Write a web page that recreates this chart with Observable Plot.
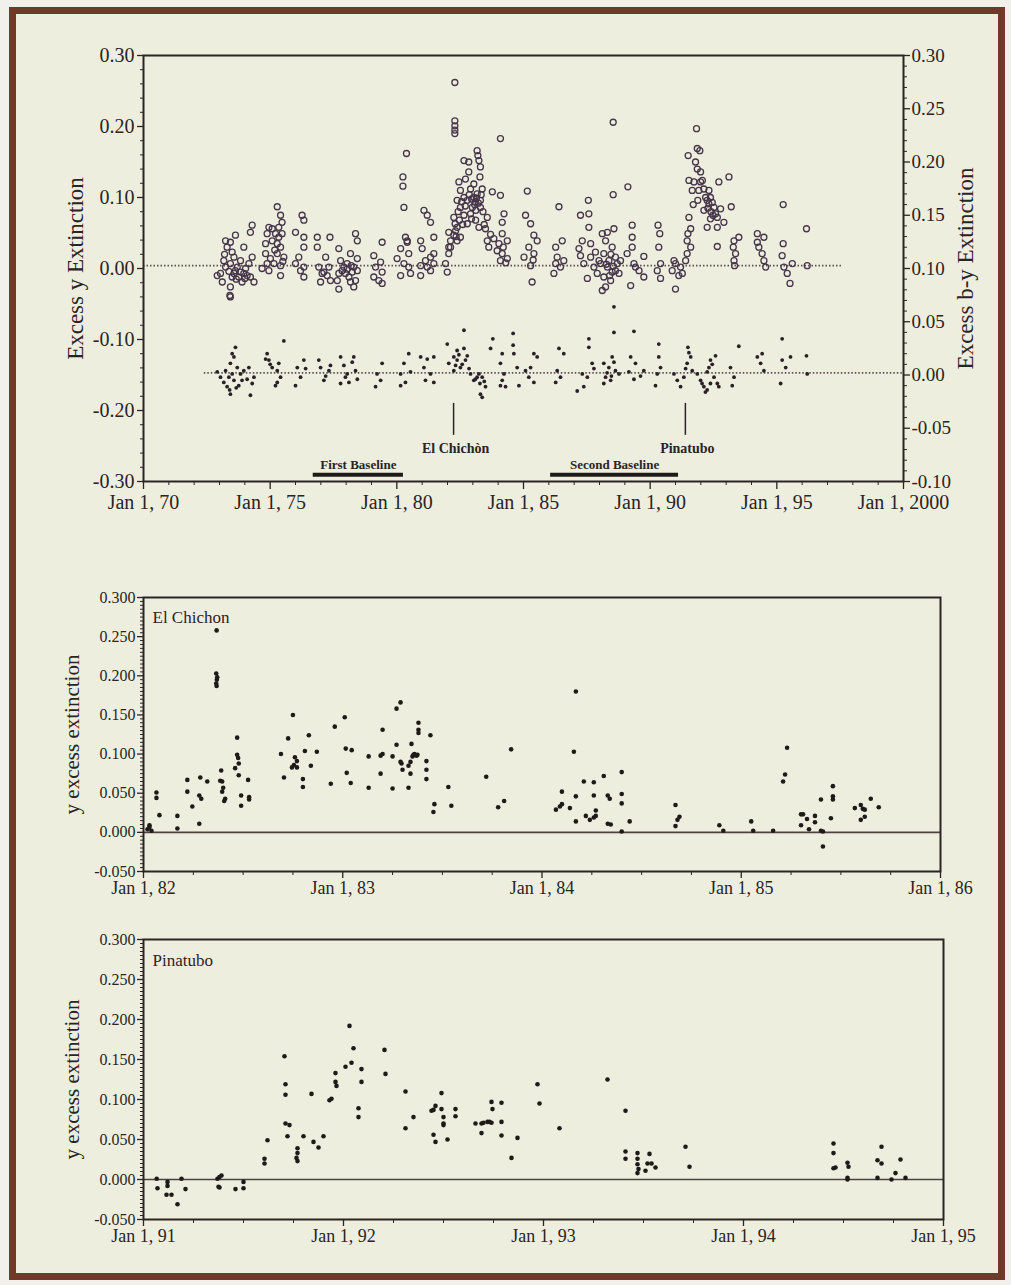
<!DOCTYPE html>
<html>
<head>
<meta charset="utf-8">
<script src="https://cdn.jsdelivr.net/npm/d3@7"></script>
<script src="https://cdn.jsdelivr.net/npm/@observablehq/plot@0.6"></script>
<style>
html,body{margin:0;padding:0;background:#f1f0ea;}
body{position:relative;width:1011px;height:1285px;overflow:hidden;font-family:"Liberation Serif",serif;}
#page{position:absolute;left:9px;top:7px;width:982px;height:1259px;border:7px solid #6e3a2a;background:#eeeedf;}
.panel{position:absolute;left:0;}
</style>
</head>
<body>
<div id="page"></div>
<div id="topPanel" class="panel" style="top:20px"></div>
<div id="midPanel" class="panel" style="top:570px"></div>
<div id="botPanel" class="panel" style="top:915px"></div>
<script>
// ---------- DATA ----------
// Top panel: excess y extinction (open circles, left axis), [decimal year, value]
const excessY = [
[1973.24,0.039],[1973.43,0.037],[1973.63,0.047],[1973.30,0.030],[1973.50,0.023],[1973.17,0.011],[1973.43,0.007],[1973.70,0.002],
[1973.83,-0.005],[1973.96,-0.007],[1974.09,-0.010],[1974.22,-0.012],[1974.36,-0.019],[1973.04,-0.007],[1972.91,-0.010],[1973.11,-0.019],
[1973.43,-0.026],[1973.43,-0.040],[1973.41,-0.038],[1973.57,-0.007],[1974.29,0.061],[1974.22,0.051],[1973.96,0.030],[1974.29,0.016],
[1974.16,0.007],[1973.76,-0.012],[1973.89,-0.019],[1973.63,-0.003],[1974.03,0.000],[1973.24,0.002],[1973.57,0.016],[1973.83,0.011],
[1973.50,-0.012],[1973.37,-0.004],[1973.66,-0.015],[1974.00,-0.014],[1973.20,0.020],
[1975.28,0.087],[1975.41,0.075],[1975.47,0.065],[1975.34,0.058],[1974.95,0.058],[1974.88,0.049],[1975.08,0.039],[1975.28,0.035],
[1974.82,0.021],[1975.01,0.014],[1974.88,0.007],[1975.28,0.021],[1975.41,0.004],[1975.41,-0.010],[1974.68,0.000],[1975.47,0.049],
[1975.21,0.049],[1974.82,0.035],[1975.15,0.007],[1974.95,-0.003],[1975.54,0.016],[1975.08,0.056],[1975.41,0.030],
[1975.34,0.044],[1975.18,0.026],[1975.50,0.010],
[1976.26,0.075],[1976.33,0.068],[1976.00,0.051],[1976.33,0.044],[1976.33,0.030],[1976.13,0.016],[1976.00,0.007],[1976.33,0.002],
[1976.33,-0.012],[1976.20,-0.003],
[1976.86,0.044],[1976.86,0.030],[1977.36,0.044],[1977.19,0.016],[1976.92,0.002],[1977.12,-0.005],[1976.99,-0.019],[1977.32,0.002],
[1977.25,-0.010],[1977.05,-0.007],[1977.38,-0.017],
[1978.37,0.049],[1978.44,0.039],[1977.71,0.028],[1978.17,0.021],[1977.78,0.011],[1978.04,0.007],[1977.91,0.002],[1978.30,0.002],
[1978.44,-0.003],[1977.71,-0.007],[1978.11,-0.012],[1977.71,-0.029],[1978.37,-0.017],[1978.30,-0.026],[1977.84,-0.003],[1978.24,-0.005],
[1977.97,-0.007],[1978.17,-0.019],[1978.44,0.014],[1977.65,-0.017],[1978.04,-0.001],[1978.20,0.004],
[1979.42,0.037],[1979.09,0.018],[1979.36,0.009],[1979.16,0.002],[1979.42,-0.005],[1979.09,-0.012],[1979.42,-0.021],[1979.29,-0.017],
[1980.38,0.162],[1980.24,0.129],[1980.24,0.116],[1980.28,0.086],[1980.41,0.039],[1980.15,0.028],[1980.47,0.021],[1980.28,0.007],
[1980.47,0.002],[1980.54,-0.007],[1980.15,-0.010],[1980.01,0.014],[1980.34,0.044],[1980.41,0.037],
[1981.07,0.082],[1981.20,0.075],[1981.33,0.065],[1981.46,0.044],[1980.94,0.039],[1981.00,0.028],[1981.33,0.016],[1981.46,0.007],
[1980.94,0.004],[1981.20,0.002],[1980.94,-0.010],[1981.46,0.021],[1981.13,0.011],[1981.33,-0.003],
[1982.12,0.039],[1982.05,0.021],[1981.92,0.007],[1981.99,-0.005],[1982.05,0.030],
[1982.29,0.262],[1982.29,0.208],[1982.29,0.201],[1982.29,0.195],[1982.29,0.190],[1982.65,0.152],[1982.84,0.150],[1982.45,0.122],
[1982.71,0.126],[1983.17,0.166],[1983.20,0.159],[1983.30,0.143],[1983.28,0.129],[1983.04,0.119],[1982.91,0.112],[1982.65,0.100],
[1982.38,0.096],[1983.17,0.105],[1983.30,0.096],[1982.51,0.086],[1982.98,0.086],[1983.30,0.086],[1982.25,0.072],[1982.65,0.075],
[1983.57,0.072],[1982.38,0.058],[1982.25,0.047],[1982.51,0.044],[1983.24,0.058],[1983.50,0.056],[1982.12,0.030],[1982.38,0.039],
[1982.05,0.051],[1982.78,0.096],[1983.04,0.100],[1982.91,0.077],[1983.11,0.068],[1982.78,0.063],[1982.32,0.053],[1983.37,0.112],
[1983.24,0.152],[1982.84,0.136],[1982.51,0.110],
[1982.42,0.080],[1982.47,0.068],[1982.56,0.094],[1982.60,0.062],[1982.70,0.088],[1982.86,0.104],[1982.95,0.098],[1983.07,0.090],
[1983.10,0.094],[1983.14,0.099],[1983.22,0.092],[1983.33,0.104],[1983.40,0.080],[1983.45,0.062],[1982.34,0.045],[1982.30,0.063],
[1982.95,0.070],[1983.12,0.082],
[1984.09,0.183],[1983.77,0.108],[1984.09,0.103],[1984.23,0.077],[1984.16,0.065],[1984.16,0.049],[1984.03,0.035],[1984.36,0.039],
[1984.16,0.021],[1984.36,0.014],[1984.09,0.011],[1983.57,0.039],[1983.83,0.042],[1983.63,0.030],[1983.96,0.025],
[1983.70,0.048],[1984.20,0.030],[1984.30,0.008],
[1985.15,0.109],[1985.08,0.075],[1985.28,0.063],[1985.41,0.047],[1985.21,0.030],[1985.02,0.016],[1985.41,0.021],[1985.28,0.004],
[1985.34,-0.019],[1985.54,0.039],[1985.38,0.012],
[1986.40,0.087],[1986.53,0.039],[1986.27,0.030],[1986.33,0.016],[1986.27,0.007],[1986.59,0.011],[1986.20,-0.007],[1986.46,0.002],
[1987.56,0.096],[1987.25,0.075],[1987.58,0.077],[1987.58,0.058],[1987.32,0.039],[1987.65,0.035],[1987.25,0.018],[1987.65,0.016],
[1987.38,0.007],[1987.78,0.002],[1987.91,-0.007],[1987.52,-0.014],[1987.19,0.028],[1987.84,0.023],[1987.98,0.011],
[1988.54,0.206],[1988.54,0.104],[1989.12,0.115],[1988.11,0.049],[1988.31,0.051],[1988.57,0.056],[1988.24,0.039],[1988.50,0.030],
[1988.17,0.021],[1988.63,0.016],[1988.04,0.007],[1988.31,0.002],[1988.63,-0.003],[1988.77,-0.007],[1988.17,-0.012],[1988.44,-0.017],
[1988.24,-0.026],[1988.11,-0.031],[1988.37,0.011],[1988.70,0.007],[1988.50,-0.005],[1988.83,0.011],
[1988.40,-0.010],[1988.27,0.006],[1988.55,0.003],[1988.45,0.020],
[1989.29,0.061],[1989.29,0.044],[1989.29,0.030],[1989.09,0.021],[1989.36,0.007],[1989.23,-0.024],[1989.75,0.017],[1989.56,-0.003],
[1989.75,-0.012],[1989.42,0.002],
[1990.31,0.061],[1990.38,0.049],[1990.34,0.030],[1990.41,0.007],[1990.28,-0.003],[1990.41,-0.014],
[1991.00,0.007],[1990.87,-0.003],[1991.20,0.002],[1991.00,-0.029],[1991.13,-0.010],[1990.94,0.011],[1991.27,-0.007],
[1991.50,0.159],[1991.83,0.197],[1991.86,0.169],[1991.96,0.166],[1991.79,0.150],[1991.86,0.140],[1991.99,0.136],[1991.53,0.124],
[1991.73,0.122],[1991.99,0.122],[1991.66,0.110],[1992.12,0.112],[1992.32,0.110],[1991.88,0.096],[1992.25,0.096],[1992.38,0.100],
[1992.52,0.086],[1992.58,0.077],[1992.38,0.070],[1992.65,0.072],[1992.25,0.058],[1992.65,0.058],[1991.53,0.072],[1991.60,0.056],
[1991.46,0.039],[1991.60,0.030],[1991.46,0.021],[1992.71,0.122],[1993.11,0.129],[1993.20,0.087],[1992.91,0.065],[1992.65,0.031],
[1992.19,0.100],[1992.32,0.091],[1992.45,0.093],[1992.12,0.082],[1992.06,0.124],[1992.78,0.084],[1991.40,0.011],[1991.49,0.049],
[1992.40,0.080],[1992.48,0.075],[1992.28,0.085],[1991.92,0.110],[1991.70,0.090],
[1993.31,0.039],[1993.28,0.030],[1993.37,0.021],[1993.31,0.011],[1993.50,0.044],[1993.33,0.004],
[1994.23,0.049],[1994.49,0.044],[1994.29,0.030],[1994.42,0.021],[1994.49,0.011],[1994.56,0.002],[1994.23,0.037],
[1995.25,0.090],[1995.25,0.035],[1995.21,0.018],[1995.28,0.002],[1995.41,-0.007],[1995.52,-0.021],[1995.61,0.007],
[1996.17,0.056],[1996.20,0.004]
];

// Top panel: excess b-y extinction (filled dots, right axis), [decimal year, value]
const excessBY = [
[1973.63,0.026],[1973.50,0.020],[1973.43,0.011],[1973.70,0.007],[1973.24,0.004],[1973.83,0.001],[1973.37,-0.002],[1973.57,-0.005],
[1974.09,-0.004],[1974.29,-0.008],[1973.30,-0.011],[1973.43,-0.018],[1974.22,-0.019],[1973.04,-0.002],[1973.96,0.004],[1974.16,0.007],
[1973.17,-0.007],[1973.76,-0.010],[1973.89,-0.005],[1973.50,0.001],[1974.36,-0.002],[1972.91,0.003],[1973.57,0.017],
[1973.40,-0.014],[1973.66,-0.012],
[1974.88,0.020],[1974.95,0.014],[1975.08,0.007],[1975.28,0.004],[1975.41,-0.002],[1975.21,-0.010],[1975.34,0.011],[1975.54,0.032],
[1974.82,0.015],[1975.28,-0.007],[1975.00,0.010],
[1976.07,0.007],[1976.20,-0.002],[1976.40,0.006],[1976.00,-0.010],[1976.33,0.014],
[1976.92,0.014],[1976.99,0.007],[1977.19,-0.001],[1977.32,0.004],[1977.12,-0.005],[1977.38,0.009],
[1977.78,0.017],[1977.91,0.009],[1978.04,0.001],[1978.24,0.012],[1978.37,0.004],[1978.44,-0.004],[1977.78,-0.008],[1978.11,-0.007],
[1978.30,0.017],[1977.97,-0.002],
[1979.42,0.011],[1979.22,0.001],[1979.36,-0.005],[1979.16,-0.011],
[1980.47,0.020],[1980.28,0.011],[1980.15,0.001],[1980.54,0.003],[1980.34,-0.007],[1980.15,-0.010],
[1980.94,0.017],[1981.20,0.015],[1981.46,0.017],[1981.07,0.007],[1981.33,0.001],[1981.13,-0.005],[1981.46,-0.007],
[1981.99,0.029],[1982.05,0.011],[1982.25,0.004],[1982.65,0.042],[1982.38,0.023],[1982.25,0.017],[1982.65,0.025],[1982.78,0.018],
[1982.38,0.014],[1982.51,0.007],[1982.91,0.001],[1983.17,-0.002],[1983.04,-0.005],[1983.37,-0.002],[1983.30,-0.018],[1983.37,-0.021],
[1983.50,-0.011],[1982.32,0.009],[1982.71,0.014],[1983.24,0.001],
[1982.45,0.019],[1982.58,0.010],[1983.10,-0.004],[1983.28,-0.008],[1983.45,-0.006],[1982.85,0.006],
[1983.79,0.034],[1983.70,0.025],[1984.16,0.020],[1984.09,0.011],[1984.23,0.001],[1984.16,-0.005],[1984.29,-0.011],[1984.09,-0.010],
[1984.59,0.039],[1984.59,0.028],[1984.62,0.020],[1984.75,0.007],
[1985.41,0.020],[1985.28,0.007],[1985.08,0.004],[1985.21,-0.002],[1985.54,0.017],[1985.41,-0.007],[1984.82,-0.010],
[1986.40,0.025],[1986.59,0.020],[1986.33,0.004],[1986.46,-0.002],[1986.27,-0.007],
[1987.58,0.034],[1987.58,0.026],[1987.71,0.011],[1987.78,0.006],[1987.32,0.001],[1987.52,-0.002],[1987.12,-0.015],[1987.38,-0.011],
[1988.57,0.064],[1988.57,0.040],[1989.36,0.041],[1988.17,0.011],[1988.37,0.007],[1988.57,0.012],[1988.50,0.017],[1988.63,0.004],
[1988.24,-0.002],[1988.77,0.001],[1988.44,-0.005],[1988.17,-0.008],[1988.30,0.002],[1988.47,-0.001],
[1989.23,0.017],[1989.42,0.011],[1989.16,0.003],[1989.36,-0.004],[1989.62,-0.001],[1989.75,0.004],
[1990.34,0.029],[1990.34,0.017],[1990.41,0.007],[1990.28,0.001],[1990.21,-0.010],
[1990.94,0.001],[1991.07,-0.005],[1991.20,-0.011],[1991.33,-0.002],
[1991.49,0.026],[1991.53,0.021],[1991.60,0.017],[1991.46,0.011],[1991.40,0.006],[1991.66,0.004],[1991.86,0.001],[1991.99,-0.005],
[1992.12,-0.011],[1992.25,-0.014],[1992.38,-0.008],[1992.52,-0.002],[1992.32,0.007],[1992.38,0.014],[1992.58,0.018],[1992.25,0.003],
[1992.65,-0.008],[1992.71,-0.011],[1992.05,-0.008],[1992.18,-0.016],[1992.45,0.010],
[1993.17,0.007],[1993.31,-0.002],[1993.24,-0.010],[1993.50,0.027],
[1994.23,0.017],[1994.36,0.011],[1994.42,0.020],[1994.49,0.004],
[1995.21,0.034],[1995.21,0.014],[1995.35,0.007],[1995.54,0.017],[1995.15,-0.008],
[1996.17,0.018],[1996.20,0.001]
];

// Middle panel: El Chichon, y excess extinction
const chichon = [
[1982.02,0.004],[1982.03,0.007],[1982.04,0.002],[1982.03,0.009],[1982.065,0.051],[1982.065,0.044],[1982.08,0.022],
[1982.17,0.021],[1982.17,0.005],[1982.22,0.067],[1982.22,0.052],[1982.245,0.033],[1982.28,0.011],[1982.285,0.070],
[1982.28,0.047],[1982.29,0.043],[1982.32,0.065],[1982.367,0.258],[1982.365,0.203],[1982.37,0.198],[1982.368,0.195],
[1982.365,0.190],[1982.367,0.187],[1982.39,0.079],[1982.385,0.066],[1982.395,0.065],[1982.40,0.057],[1982.395,0.052],
[1982.41,0.043],[1982.405,0.040],[1982.47,0.121],[1982.47,0.099],[1982.475,0.095],[1982.478,0.088],[1982.46,0.082],
[1982.478,0.073],[1982.49,0.047],[1982.49,0.034],[1982.525,0.067],[1982.53,0.045],[1982.53,0.042],
[1982.69,0.100],[1982.705,0.070],[1982.726,0.120],[1982.75,0.150],[1982.745,0.083],[1982.755,0.086],[1982.76,0.096],
[1982.77,0.091],[1982.77,0.083],[1982.80,0.068],[1982.80,0.058],[1982.81,0.104],[1982.83,0.124],[1982.84,0.085],[1982.87,0.103],
[1982.94,0.062],[1982.96,0.135],[1983.01,0.147],[1983.015,0.107],[1983.045,0.105],[1983.02,0.076],[1983.04,0.063],
[1983.13,0.057],[1983.13,0.097],[1983.19,0.075],[1983.19,0.098],[1983.20,0.100],[1983.20,0.131],[1983.25,0.097],[1983.25,0.056],
[1983.27,0.158],[1983.29,0.166],[1983.27,0.112],[1983.29,0.090],[1983.295,0.088],[1983.30,0.080],[1983.33,0.085],[1983.34,0.090],
[1983.345,0.113],[1983.34,0.075],[1983.33,0.057],[1983.35,0.097],[1983.355,0.099],[1983.36,0.100],[1983.37,0.098],[1983.375,0.099],
[1983.38,0.140],[1983.38,0.131],[1983.38,0.127],[1983.42,0.091],[1983.42,0.080],[1983.42,0.068],[1983.44,0.124],[1983.455,0.026],
[1983.46,0.036],[1983.53,0.058],[1983.545,0.034],[1983.72,0.071],[1983.78,0.032],[1983.81,0.040],[1983.845,0.106],
[1984.17,0.180],[1984.16,0.103],[1984.10,0.052],[1984.10,0.036],[1984.07,0.029],[1984.09,0.033],[1984.14,0.031],[1984.17,0.046],
[1984.17,0.014],[1984.21,0.065],[1984.26,0.064],[1984.26,0.047],[1984.22,0.021],[1984.24,0.016],[1984.26,0.019],[1984.27,0.021],
[1984.27,0.028],[1984.31,0.072],[1984.33,0.047],[1984.34,0.043],[1984.33,0.011],[1984.345,0.010],[1984.40,0.001],[1984.40,0.077],
[1984.40,0.049],[1984.40,0.037],[1984.44,0.014],[1984.67,0.035],[1984.69,0.020],[1984.68,0.016],[1984.67,0.008],
[1984.89,0.009],[1984.91,0.002],[1985.05,0.014],[1985.06,0.002],[1985.16,0.002],[1985.23,0.108],[1985.22,0.074],[1985.21,0.065],
[1985.30,0.023],[1985.30,0.009],[1985.31,0.023],[1985.33,0.017],[1985.34,0.004],[1985.37,0.021],[1985.37,0.013],[1985.40,0.042],
[1985.41,0.001],[1985.40,0.002],[1985.41,-0.018],[1985.45,0.018],[1985.46,0.059],[1985.46,0.046],[1985.46,0.042],
[1985.57,0.031],[1985.60,0.035],[1985.61,0.030],[1985.62,0.029],[1985.62,0.020],[1985.60,0.016],[1985.65,0.043],[1985.69,0.032]
];

// Bottom panel: Pinatubo, y excess extinction
const pinatubo = [
[1991.066,0.001],[1991.07,-0.011],[1991.12,-0.003],[1991.12,-0.008],[1991.115,-0.019],[1991.14,-0.019],[1991.17,-0.031],
[1991.21,-0.012],[1991.19,0.001],[1991.37,0.001],[1991.38,0.003],[1991.39,0.005],[1991.375,-0.009],[1991.38,-0.010],
[1991.46,-0.012],[1991.50,-0.003],[1991.50,-0.011],[1991.605,0.026],[1991.605,0.020],[1991.62,0.049],
[1991.705,0.154],[1991.71,0.119],[1991.71,0.106],[1991.71,0.070],[1991.73,0.068],[1991.72,0.054],
[1991.77,0.039],[1991.77,0.033],[1991.765,0.027],[1991.77,0.023],[1991.80,0.054],[1991.84,0.107],[1991.85,0.047],
[1991.875,0.040],[1991.90,0.054],[1991.93,0.099],[1991.94,0.101],[1991.96,0.133],[1991.96,0.122],[1991.965,0.117],
[1992.01,0.141],[1992.03,0.192],[1992.05,0.164],[1992.04,0.146],[1992.09,0.138],[1992.09,0.122],[1992.075,0.089],[1992.075,0.078],
[1992.205,0.162],[1992.21,0.132],[1992.31,0.110],[1992.31,0.064],[1992.35,0.078],
[1992.44,0.086],[1992.45,0.087],[1992.46,0.092],[1992.49,0.108],[1992.49,0.088],[1992.50,0.078],[1992.50,0.070],[1992.50,0.068],
[1992.45,0.056],[1992.46,0.047],[1992.52,0.050],[1992.56,0.088],[1992.56,0.079],
[1992.66,0.070],[1992.69,0.070],[1992.70,0.071],[1992.72,0.072],[1992.73,0.072],[1992.74,0.071],[1992.69,0.058],[1992.74,0.097],
[1992.745,0.088],[1992.79,0.096],[1992.79,0.072],[1992.79,0.055],[1992.84,0.027],[1992.87,0.052],[1992.97,0.119],[1992.98,0.095],
[1993.08,0.064],[1993.32,0.125],[1993.41,0.086],[1993.41,0.035],[1993.41,0.026],
[1993.47,0.033],[1993.47,0.026],[1993.47,0.019],[1993.475,0.013],[1993.47,0.008],[1993.51,0.011],[1993.53,0.032],[1993.52,0.020],
[1993.54,0.020],[1993.56,0.015],[1993.71,0.041],[1993.73,0.016],
[1994.45,0.045],[1994.45,0.033],[1994.45,0.014],[1994.46,0.015],[1994.52,0.021],[1994.525,0.016],[1994.52,0.002],[1994.52,0.000],
[1994.67,0.024],[1994.67,0.002],[1994.69,0.041],[1994.69,0.020],[1994.74,0.000],[1994.76,0.008],[1994.785,0.025],[1994.81,0.002]
];

// Annotations (top panel)
const volcanoes = [{name:"El Chichòn", date:1982.24}, {name:"Pinatubo", date:1991.39}];
const baselines = [{label:"First Baseline", start:1976.70, end:1980.26}, {label:"Second Baseline", start:1986.07, end:1991.12}];
// Dotted reference levels in the top panel
const refLevels = [{axis:"left", value:0.004, from:1970, to:1997.55}, {axis:"right", value:0.002, from:1972.4, to:2000}];

// Tick values
const topYearTicks = [1970, 1975, 1980, 1985, 1990, 1995, 2000];
const leftTicks = [-0.3, -0.2, -0.1, 0, 0.1, 0.2, 0.3];
const rightTicks = [-0.10, -0.05, 0, 0.05, 0.10, 0.15, 0.20, 0.25, 0.30];
const lowerYTicks = [-0.05, 0, 0.05, 0.10, 0.15, 0.20, 0.25, 0.30];

// ---------- RENDER ----------
const ink = "#2b2424";
const baseStyle = {fontFamily: "'Liberation Serif', 'Times New Roman', serif", background: "transparent", color: ink, overflow: "visible"};
const toLeft = r => 1.5 * (r - 0.1); // right-axis value -> left-axis position
const f2 = v => { const s = (Math.round(v * 100) / 100).toFixed(2); return s === "-0.00" ? "0.00" : s; };
const f3 = v => { const s = (Math.round(v * 1000) / 1000).toFixed(3); return s === "-0.000" ? "0.000" : s; };
const yearLabel = y => y === 2000 ? "Jan 1, 2000" : "Jan 1, " + String(y % 100).padStart(2, "0");

const topMinorX = d3.range(1970, 2001).filter(y => y % 5 !== 0);
const leftMinor = d3.range(-15, 16).filter(i => i % 5 !== 0).map(i => i / 50);
const rightMinor = d3.range(-10, 31).filter(i => i % 5 !== 0).map(i => i / 100);

const topChart = Plot.plot({
  width: 1011, height: 501,
  marginLeft: 143, marginRight: 108, marginTop: 35, marginBottom: 40,
  style: {...baseStyle, fontSize: "20px"},
  x: {domain: [1970, 2000]},
  y: {domain: [-0.3, 0.3]},
  marks: [
    Plot.ruleY(refLevels, {y: d => d.axis === "left" ? d.value : toLeft(d.value), x1: "from", x2: "to",
      stroke: "#5e4e52", strokeWidth: 1.6, strokeDasharray: "1.5,2"}),
    Plot.dot(excessY, {x: d => d[0], y: d => d[1], r: 3, stroke: "#45364a", strokeWidth: 1.3, fill: "none"}),
    Plot.dot(excessBY, {x: d => d[0], y: d => toLeft(d[1]), r: 1.9, fill: "#2a2028"}),
    Plot.ruleX(volcanoes, {x: "date", y1: () => -0.19, y2: () => -0.235, stroke: ink, strokeWidth: 1.5}),
    Plot.text(volcanoes, {x: "date", y: () => -0.254, dx: 2, text: "name", fontWeight: "bold", fontSize: 14, fill: ink}),
    Plot.ruleY(baselines, {y: () => -0.2905, x1: "start", x2: "end", stroke: "#1f1a1a", strokeWidth: 4}),
    Plot.text(baselines, {x: d => (d.start + d.end) / 2, y: () => -0.277, text: "label", fontWeight: "bold", fontSize: 13, fill: ink}),
    Plot.axisX(topYearTicks, {anchor: "bottom", tickSize: 8, tickPadding: 5, tickFormat: yearLabel, label: null, strokeWidth: 1.3}),
    Plot.axisX(topMinorX, {anchor: "bottom", tickSize: 4, tickFormat: () => "", label: null}),
    Plot.axisY(leftTicks, {anchor: "left", tickSize: 6, tickPadding: 3, tickFormat: f2, label: null, strokeWidth: 1.3}),
    Plot.axisY(leftMinor, {anchor: "left", tickSize: 3, tickFormat: () => "", label: null}),
    Plot.axisY(rightTicks.map(toLeft), {anchor: "right", tickSize: 6, tickPadding: 2, tickFormat: v => f2(v / 1.5 + 0.1), label: null, fontSize: 19, strokeWidth: 1.3}),
    Plot.axisY(rightMinor.map(toLeft), {anchor: "right", tickSize: 3, tickFormat: () => "", label: null}),
    Plot.frame({stroke: ink, strokeWidth: 2}),
    Plot.text(["Excess y Extinction"], {text: d => d, frameAnchor: "left", textAnchor: "middle", dx: -68, rotate: -90, fontSize: 23, fill: ink}),
    Plot.text(["Excess b-y Extinction"], {text: d => d, frameAnchor: "right", textAnchor: "middle", dx: 62, rotate: -90, fontSize: 23, fill: ink})
  ]
});
document.getElementById("topPanel").append(topChart);

function lowerPanel(data, x0, name, marginTop, height, marginRight, labelDy) {
  const majorX = d3.range(x0, x0 + 5);
  const minorX = d3.range(0, 17).filter(i => i % 4 !== 0).map(i => x0 + i / 4);
  const minorY = d3.range(-10, 61).filter(i => i % 10 !== 0).map(i => i / 200);
  return Plot.plot({
    width: 1011, height,
    marginLeft: 143, marginRight, marginTop, marginBottom: 35,
    style: {...baseStyle, fontSize: "17px"},
    x: {domain: [x0, x0 + 4]},
    y: {domain: [-0.05, 0.3]},
    marks: [
      Plot.ruleY([0], {stroke: "#4d4242", strokeWidth: 1.6}),
      Plot.dot(data, {x: d => d[0], y: d => d[1], r: 2.3, fill: "#1e1a1a"}),
      Plot.axisX(majorX, {anchor: "bottom", tickSize: 7, tickPadding: 3, tickFormat: yearLabel, label: null, fontSize: 18, strokeWidth: 1.3}),
      Plot.axisX(minorX, {anchor: "bottom", tickSize: 4, tickFormat: () => "", label: null}),
      Plot.axisY(lowerYTicks, {anchor: "left", tickSize: 6, tickPadding: 2, tickFormat: f3, label: null, fontSize: 16, strokeWidth: 1.3}),
      Plot.axisY(minorY, {anchor: "left", tickSize: 3, tickFormat: () => "", label: null}),
      Plot.frame({stroke: ink, strokeWidth: 2}),
      Plot.text([name], {text: d => d, frameAnchor: "top-left", dx: 9, dy: labelDy, fontSize: 17, fill: ink}),
      Plot.text(["y excess extinction"], {text: d => d, frameAnchor: "left", textAnchor: "middle", dx: -71, rotate: -90, fontSize: 21, fill: ink})
    ]
  });
}

document.getElementById("midPanel").append(lowerPanel(chichon, 1982, "El Chichon", 27, 336, 71, 13));
document.getElementById("botPanel").append(lowerPanel(pinatubo, 1991, "Pinatubo", 24, 339, 68, 14));
</script>
</body>
</html>
